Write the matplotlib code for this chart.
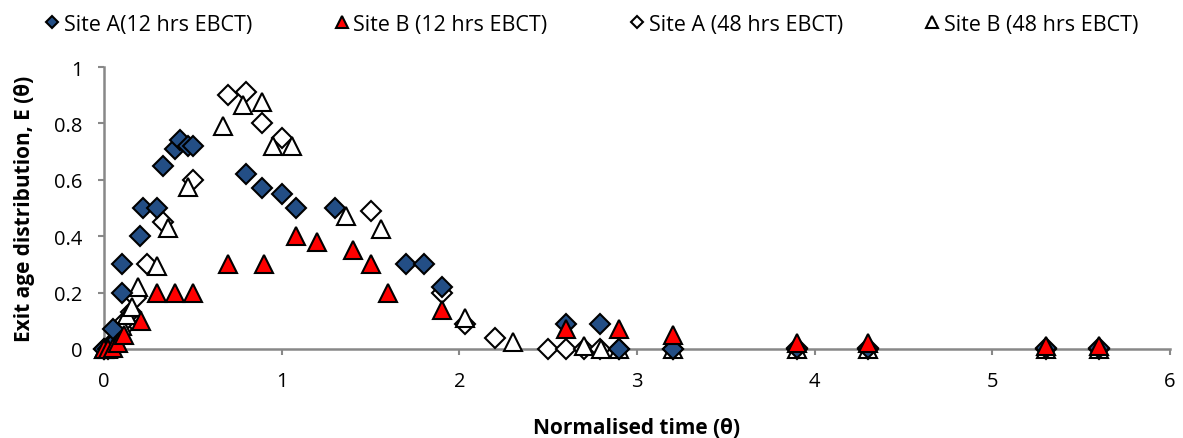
import matplotlib
matplotlib.use("Agg")
import matplotlib.pyplot as plt
from matplotlib.ticker import FixedLocator, FixedFormatter

plt.rcParams['font.family'] = ['Open Sans', 'DejaVu Sans']

# Site A (12 hrs EBCT)
a12_x = [0, 0.02, 0.04, 0.05, 0.1, 0.1, 0.2, 0.22, 0.3, 0.33, 0.4, 0.43, 0.47, 0.5,
         0.8, 0.89, 1.0, 1.08, 1.3, 1.7, 1.8, 1.9, 2.6, 2.79, 2.9, 3.2, 3.9, 4.3, 5.3, 5.6]
a12_y = [0, 0, 0.01, 0.07, 0.2, 0.3, 0.4, 0.5, 0.5, 0.65, 0.71, 0.74, 0.72, 0.72,
         0.62, 0.57, 0.55, 0.5, 0.5, 0.3, 0.3, 0.22, 0.09, 0.09, 0.0, 0.0, 0.005, 0.005, 0.003, 0.003]

# Site B (12 hrs EBCT)
b12_x = [0, 0.02, 0.05, 0.08, 0.11, 0.21, 0.3, 0.4, 0.5, 0.7, 0.9, 1.08, 1.2, 1.4,
         1.5, 1.6, 1.9, 2.6, 2.9, 3.2, 3.9, 4.3, 5.3, 5.6]
b12_y = [0, 0, 0.005, 0.02, 0.05, 0.1, 0.2, 0.2, 0.2, 0.3, 0.3, 0.4, 0.38, 0.35,
         0.3, 0.2, 0.14, 0.07, 0.07, 0.05, 0.02, 0.02, 0.01, 0.01]

# Site A (48 hrs EBCT)
a48_x = [0, 0.03, 0.06, 0.1, 0.12, 0.15, 0.18, 0.24, 0.33, 0.5, 0.7, 0.8, 0.89, 1.0,
         1.5, 1.9, 2.03, 2.2, 2.5, 2.6, 2.7, 2.79, 2.9, 3.2, 3.9, 4.3, 5.3, 5.6]
a48_y = [0, 0.01, 0.03, 0.07, 0.1, 0.13, 0.18, 0.30, 0.45, 0.60, 0.90, 0.91, 0.80, 0.75,
         0.49, 0.20, 0.09, 0.04, 0, 0, 0, 0, 0, 0, 0, 0, 0, 0]

# Site B (48 hrs EBCT)
b48_x = [0, 0.03, 0.07, 0.1, 0.13, 0.16, 0.19, 0.3, 0.36, 0.47, 0.67, 0.78, 0.89, 0.95,
         1.06, 1.36, 1.56, 2.03, 2.3, 2.7, 2.8, 2.9, 3.2, 3.9, 4.3, 5.3, 5.6]
b48_y = [0, 0.005, 0.03, 0.08, 0.12, 0.15, 0.22, 0.295, 0.43, 0.575, 0.79, 0.865, 0.875, 0.72,
         0.72, 0.47, 0.425, 0.11, 0.025, 0.01, 0, 0, 0, 0, 0, 0, 0]

labels = ["Site A(12 hrs EBCT)", "Site B (12 hrs EBCT)", "Site A (48 hrs EBCT)", "Site B (48 hrs EBCT)"]
x_ticks = [0, 1, 2, 3, 4, 5, 6]
x_ticklabels = ["0", "1", "2", "3", "4", "5", "6"]
y_ticks = [0, 0.2, 0.4, 0.6, 0.8, 1.0]
y_ticklabels = ["0", "0.2", "0.4", "0.6", "0.8", "1"]

fig = plt.figure(figsize=(11.83, 4.39), dpi=100)
ax = fig.add_axes([104/1183, 1-350/439, (1170-104)/1183, (350-68)/439])

blue = "#234E85"
red = "#FF0000"
h3 = ax.plot(a48_x, a48_y, ls='none', marker='D', ms=10, mfc='white', mec='black', mew=1.5,
             clip_on=False, zorder=3, label=labels[2])[0]
h4 = ax.plot(b48_x, b48_y, ls='none', marker='^', ms=13, mfc='white', mec='black', mew=1.5,
             clip_on=False, zorder=3, label=labels[3])[0]
h1 = ax.plot(a12_x, a12_y, ls='none', marker='D', ms=10, mfc=blue, mec='black', mew=1.5,
             clip_on=False, zorder=4, label=labels[0])[0]
h2 = ax.plot(b12_x, b12_y, ls='none', marker='^', ms=13, mfc=red, mec='black', mew=1.5,
             clip_on=False, zorder=5, label=labels[1])[0]

ax.set_xlim(0, 6)
ax.set_ylim(0, 1)
ax.xaxis.set_major_locator(FixedLocator(x_ticks))
ax.xaxis.set_major_formatter(FixedFormatter(x_ticklabels))
ax.yaxis.set_major_locator(FixedLocator(y_ticks))
ax.yaxis.set_major_formatter(FixedFormatter(y_ticklabels))

for s in ['top', 'right']:
    ax.spines[s].set_visible(False)
for s in ['left', 'bottom']:
    ax.spines[s].set_color('#888888')
    ax.spines[s].set_linewidth(1.8)
ax.tick_params(axis='both', direction='out', length=4.5, width=1.5, color='#888888',
               labelsize=14.5, pad=11)

ax.set_xlabel("Normalised time (θ)", fontsize=15, fontweight='bold', labelpad=19)
ax.set_ylabel("Exit age distribution, E (θ)", fontsize=15, fontweight='bold', labelpad=14)

leg = fig.legend([h1, h2, h3, h4], labels, loc='upper center', bbox_to_anchor=(0.5, 1.01),
                 ncol=4, frameon=False, fontsize=15.5, markerscale=0.65, handlelength=0.7,
                 handletextpad=0.2, columnspacing=3.8)

fig.savefig("out.png", dpi=100)
